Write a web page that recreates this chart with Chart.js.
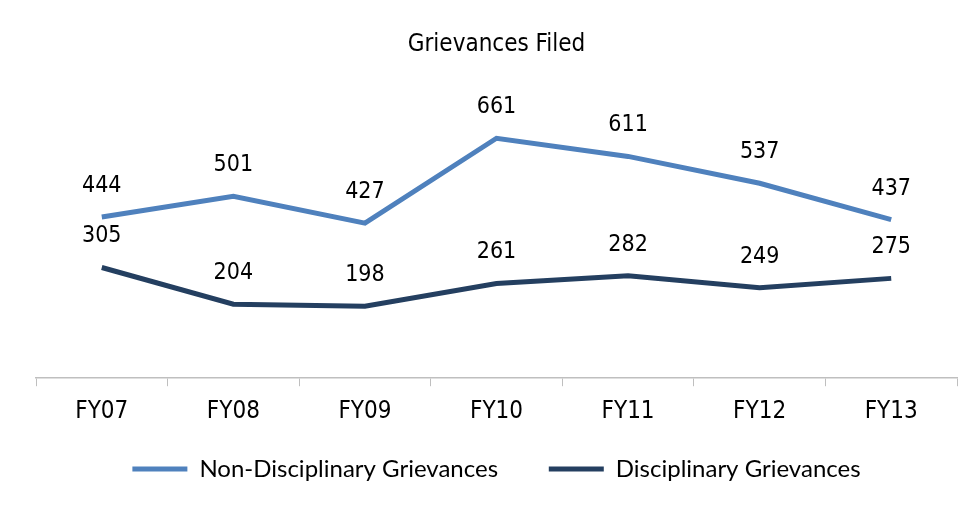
<!DOCTYPE html>
<html>
<head>
<meta charset="utf-8">
<script src="https://cdn.jsdelivr.net/npm/chart.js@4/dist/chart.umd.min.js"></script>
<style>
  html, body { margin: 0; padding: 0; background: #fff; }
  #wrap { width: 977px; height: 506px; }
</style>
</head>
<body>
<div id="wrap"><canvas id="myChart" width="977" height="506"></canvas></div>
<script>
const categories = ['FY07', 'FY08', 'FY09', 'FY10', 'FY11', 'FY12', 'FY13']
const nonDisciplinary = [444, 501, 427, 661, 611, 537, 437]
const disciplinary = [305, 204, 198, 261, 282, 249, 275]

const narrowFont = "'Liberation Sans Narrow', 'Arial Narrow', 'DejaVu Sans Condensed', sans-serif"
const legendFont = "Lato, 'Open Sans', sans-serif"

// draws the value above each point
const valueLabels = {
  id: 'valueLabels',
  afterDatasetsDraw(chart) {
    const ctx = chart.ctx
    ctx.save()
    ctx.font = '23px ' + narrowFont
    ctx.fillStyle = '#000'
    ctx.textAlign = 'center'
    ctx.textBaseline = 'middle'
    chart.data.datasets.forEach((ds, i) => {
      const meta = chart.getDatasetMeta(i)
      meta.data.forEach((pt, j) => {
        ctx.fillText(ds.data[j], pt.x, pt.y - 31)
      })
    })
    ctx.restore()
  }
}

const ctx = document.getElementById('myChart')

new Chart(ctx, {
  type: 'line',
  data: {
    labels: categories,
    datasets: [{
      label: 'Non-Disciplinary Grievances',
      data: nonDisciplinary,
      borderColor: '#4f81bd',
      backgroundColor: '#4f81bd',
      borderWidth: 5,
      pointRadius: 0,
      tension: 0
    }, {
      label: 'Disciplinary Grievances',
      data: disciplinary,
      borderColor: '#243f60',
      backgroundColor: '#243f60',
      borderWidth: 5,
      pointRadius: 0,
      tension: 0
    }]
  },
  options: {
    responsive: false,
    animation: false,
    layout: { padding: { left: 36, right: 20, top: 0, bottom: 15 } },
    plugins: {
      title: {
        display: true,
        text: 'Grievances Filed',
        color: '#000',
        font: { family: narrowFont, size: 24, weight: 'normal' },
        padding: { top: 30, bottom: 29 }
      },
      legend: {
        position: 'bottom',
        labels: {
          color: '#000',
          font: { family: legendFont, size: 24 },
          boxWidth: 55,
          boxHeight: 5,
          padding: 20,
          generateLabels(chart) {
            // trailing spaces widen the gap between the two entries
            return chart.data.datasets.map((ds, i) => ({
              text: i === 0 ? ds.label + '     ' : ds.label,
              fillStyle: ds.borderColor,
              strokeStyle: ds.borderColor,
              lineWidth: 0,
              fontColor: '#000',
              datasetIndex: i
            }))
          }
        }
      },
      tooltip: { enabled: false }
    },
    scales: {
      x: {
        offset: true,
        border: { color: '#bfbfbf', width: 1.5 },
        grid: { display: true, drawOnChartArea: false, tickLength: 8, color: '#bfbfbf', offset: true },
        ticks: { color: '#000', padding: 11, font: { family: narrowFont, size: 24 } }
      },
      y: {
        display: false,
        min: 0,
        max: 800
      }
    }
  },
  plugins: [valueLabels]
})
</script>
</body>
</html>
